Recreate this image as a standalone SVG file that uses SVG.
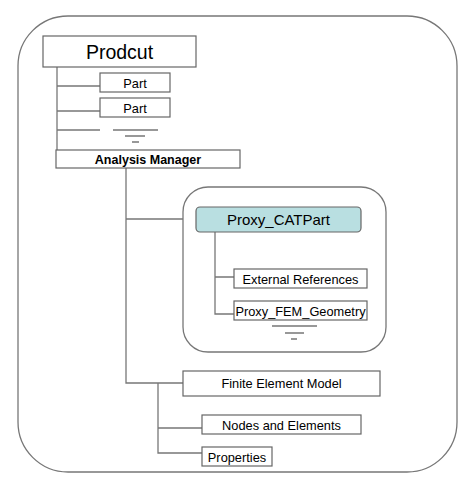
<svg xmlns="http://www.w3.org/2000/svg" width="473" height="493" viewBox="0 0 473 493">
<style>
.box{fill:#fff;stroke:#666;stroke-width:1.2}
.ln{stroke:#777;stroke-width:1.3;fill:none}
text{font-family:"Liberation Sans",Arial,sans-serif;fill:#000;text-anchor:middle}
.s{font-size:12.8px}
</style>
<rect x="0" y="0" width="473" height="493" fill="#fff"/>
<rect x="18" y="16" width="439" height="456" rx="50" ry="50" fill="#fff" stroke="#777" stroke-width="1.3"/>
<g id="proxy-container"><rect x="183" y="187" width="203" height="165" rx="25" ry="25" fill="#fff" stroke="#777" stroke-width="1.3"/></g>
<g id="connectors">
<path class="ln" d="M57 67V150M57 86H100M57 111H100M57 130H100M113 130H158M125 136H145M132 142H139"/>
<path class="ln" d="M126 168V383H183M126 219H183"/>
<path class="ln" d="M215 232V314H234M215 277H234M272 326H317M285 333H304M291 339H297"/>
<path class="ln" d="M158 383V453H202M158 428H202"/>
</g>
<g id="prodcut"><rect class="box" x="43" y="36" width="153" height="31"/><text x="119.5" y="58.5" font-size="19.5">Prodcut</text></g>
<g id="part1"><rect class="box" x="100" y="73" width="70" height="19"/><text class="s" x="135" y="87.5">Part</text></g>
<g id="part2"><rect class="box" x="100" y="98" width="70" height="19"/><text class="s" x="135" y="112.5">Part</text></g>
<g id="analysis-manager"><rect class="box" x="56" y="150" width="184" height="18"/><text x="148" y="164" font-size="12.5" font-weight="bold">Analysis Manager</text></g>
<g id="proxy-catpart"><rect x="196" y="207" width="165" height="25" rx="4" ry="4" fill="#b9dfe1" stroke="#666" stroke-width="1.2"/><text x="278.5" y="225" font-size="15">Proxy_CATPart</text></g>
<g id="external-references"><rect class="box" x="234" y="269" width="133" height="19"/><text class="s" x="300.5" y="283.5">External References</text></g>
<g id="proxy-fem-geometry"><rect class="box" x="234" y="301" width="133" height="19"/><text class="s" x="300.5" y="315.5">Proxy_FEM_Geometry</text></g>
<g id="finite-element-model"><rect class="box" x="183" y="371" width="197" height="25" /><text class="s" x="281.5" y="388">Finite Element Model</text></g>
<g id="nodes-elements"><rect class="box" x="202" y="415" width="159" height="19"/><text class="s" x="281.5" y="429.5">Nodes and Elements</text></g>
<g id="properties"><rect class="box" x="202" y="447" width="70" height="19"/><text class="s" x="237" y="461.5">Properties</text></g>
</svg>
